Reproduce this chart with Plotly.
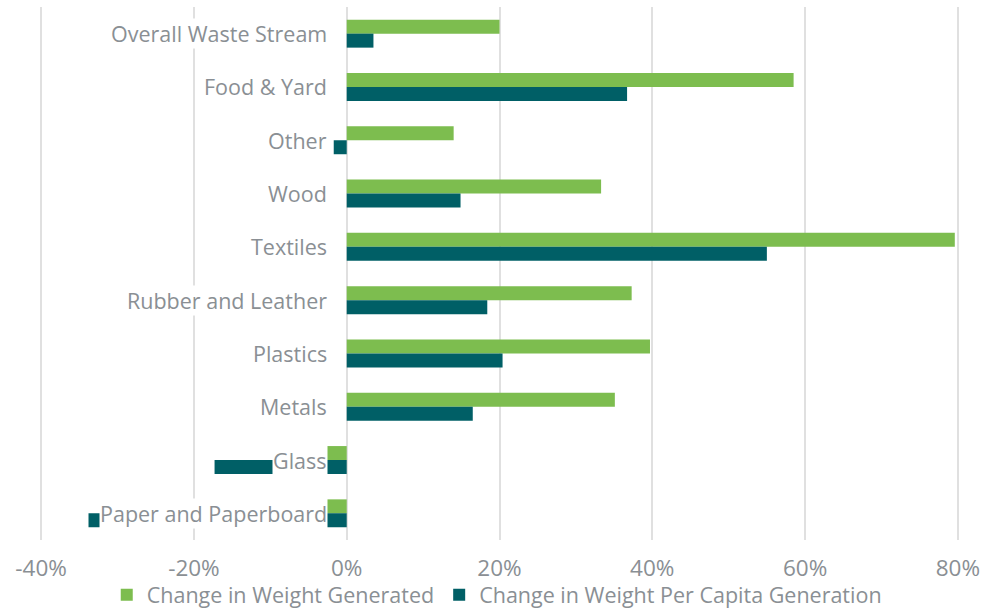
import plotly.graph_objects as go

categories = ["Overall Waste Stream", "Food & Yard", "Other", "Wood", "Textiles",
              "Rubber and Leather", "Plastics", "Metals", "Glass", "Paper and Paperboard"]
weight_generated = [0.200, 0.585, 0.140, 0.333, 0.796, 0.373, 0.397, 0.351, -0.026, -0.026]
per_capita = [0.035, 0.367, -0.017, 0.149, 0.550, 0.184, 0.204, 0.165, -0.173, -0.338]
series_names = ["Change in Weight Generated", "Change in Weight Per Capita Generation"]
x_ticks = [-0.4, -0.2, 0, 0.2, 0.4, 0.6, 0.8]
x_tick_labels = ["-40%", "-20%", "0%", "20%", "40%", "60%", "80%"]

GREEN = "#7DBD4F"
TEAL = "#005F66"
TEXT = "#8A8F94"
GRID = "#E0E0E0"
FONT = "Open Sans"

fig = go.Figure()
fig.add_trace(go.Bar(y=categories, x=weight_generated, orientation="h", name=series_names[0],
                     marker=dict(color=GREEN, line=dict(width=0))))
fig.add_trace(go.Bar(y=categories, x=per_capita, orientation="h", name=series_names[1],
                     marker=dict(color=TEAL, line=dict(width=0))))

for c in categories:
    fig.add_annotation(x=0, y=c, xref="x", yref="y", text=c, showarrow=False,
                       xanchor="right", yanchor="middle", xshift=-19, yshift=0,
                       bgcolor="white", borderpad=0,
                       font=dict(family=FONT, size=21.5, color=TEXT))

fig.update_layout(
    width=997, height=608,
    margin=dict(l=40, r=38, t=7, b=68, autoexpand=False),
    paper_bgcolor="white", plot_bgcolor="white",
    barmode="group", bargap=0.475, bargroupgap=0,
    font=dict(family=FONT, size=21, color=TEXT),
    showlegend=True,
    legend=dict(orientation="h", x=0.497, xanchor="center", y=-0.103, yanchor="middle",
                bgcolor="rgba(0,0,0,0)",
                font=dict(family=FONT, size=21.5, color=TEXT), traceorder="normal",
                itemwidth=30),
    xaxis=dict(range=[-0.4015, 0.8015], tickvals=x_ticks, ticktext=x_tick_labels,
               showgrid=True, gridcolor=GRID, gridwidth=1.5,
               zeroline=True, zerolinecolor=GRID, zerolinewidth=1.5,
               showline=False, ticks="", ticklabelstandoff=12, automargin=False,
               tickfont=dict(family=FONT, size=22.5, color=TEXT)),
    yaxis=dict(autorange="reversed", showticklabels=False, showgrid=False,
               zeroline=False, showline=False, ticks="", automargin=False),
)

fig.write_html("out.html", config={"displayModeBar": False},
               post_script="document.body.style.margin='0px';")
